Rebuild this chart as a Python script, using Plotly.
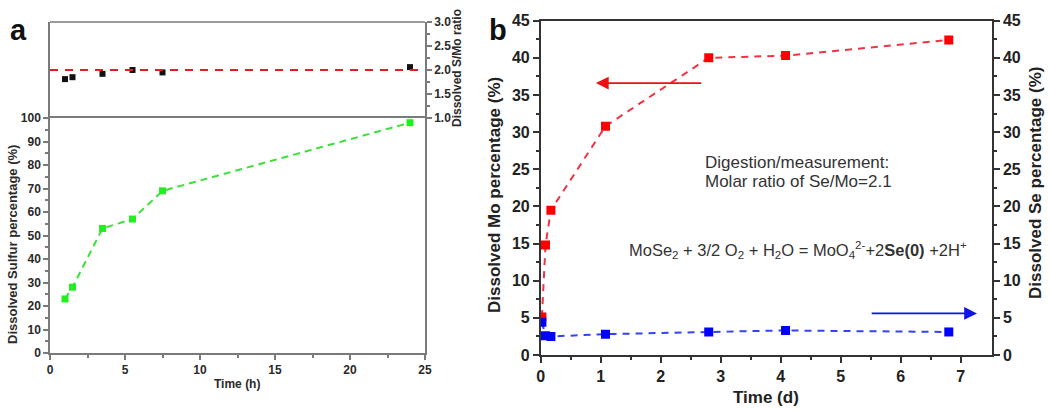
import plotly.graph_objects as go

W, H = 1050, 410

# ---------------- data ----------------
# Panel a
time_h = [1, 1.5, 3.5, 5.5, 7.5, 24]
sulfur_pct = [23, 28, 53, 57, 69, 98]
s_mo_ratio = [1.81, 1.85, 1.92, 2.0, 1.95, 2.06]
ideal_ratio = 2.0

# Panel b
time_d = [0.02, 0.08, 0.17, 1.08, 2.8, 4.08, 6.8]
mo_pct = [5.1, 14.8, 19.5, 30.8, 40.0, 40.3, 42.4]
se_time_d = [0.02, 0.08, 0.17, 1.08, 2.8, 4.08, 6.8]
se_pct = [4.4, 2.6, 2.5, 2.8, 3.1, 3.3, 3.1]

FONT = "Liberation Sans, Arial, sans-serif"


def px(x):
    return x / W


def py(y):
    return 1 - y / H


fig = go.Figure()

# Panel a traces
fig.add_trace(go.Scatter(
    x=time_h, y=sulfur_pct, mode="lines+markers", xaxis="x", yaxis="y",
    line=dict(color="#3be03b", width=2, dash="7px,5px"),
    marker=dict(symbol="square", size=7, color="#22ee22"),
    showlegend=False))
fig.add_trace(go.Scatter(
    x=time_h, y=s_mo_ratio, mode="markers", xaxis="x", yaxis="y2",
    marker=dict(symbol="square", size=6, color="#111111"),
    showlegend=False))

# Panel b traces
fig.add_trace(go.Scatter(
    x=time_d, y=mo_pct, mode="lines+markers", xaxis="x3", yaxis="y3",
    line=dict(color="#ee3344", width=2, dash="7px,6px"),
    marker=dict(symbol="square", size=9, color="#ff0000"),
    showlegend=False))
fig.add_trace(go.Scatter(
    x=se_time_d, y=se_pct, mode="lines+markers", xaxis="x3", yaxis="y4",
    line=dict(color="#3344ee", width=2, dash="7px,6px"),
    marker=dict(symbol="square", size=9, color="#0000ff"),
    showlegend=False))

tick_a = dict(family=FONT, size=12, color="#2a2a2a", weight="bold")
tick_b = dict(family=FONT, size=16, color="#222222", weight="bold")
gray = "#7a7a7a"
dark = "#333333"

fig.update_layout(
    template="none",
    width=W, height=H, autosize=False,
    margin=dict(l=0, r=0, t=0, b=0, pad=0),
    paper_bgcolor="white", plot_bgcolor="rgba(0,0,0,0)",
    font=dict(family=FONT),
    showlegend=False,
    xaxis=dict(domain=[px(50), px(425)], range=[0, 25], anchor="y",
               automargin=False,
               tickvals=[0, 5, 10, 15, 20, 25], ticks="outside", ticklen=5,
               tickcolor=gray, tickwidth=1.5,
               minor=dict(tickvals=[2.5, 7.5, 12.5, 17.5, 22.5], ticks="outside",
                          ticklen=3, tickcolor=gray),
               showline=True, linecolor=gray, linewidth=1.5, mirror=True,
               showgrid=False, zeroline=False, tickfont=tick_a),
    yaxis=dict(domain=[py(353), py(118)], range=[0, 100], anchor="x",
               automargin=False,
               tickvals=list(range(0, 101, 10)), ticks="outside", ticklen=5,
               tickcolor=gray, tickwidth=1.5,
               minor=dict(tickvals=list(range(5, 100, 10)), ticks="outside",
                          ticklen=3, tickcolor=gray),
               showline=True, linecolor=gray, linewidth=1.5, mirror=True,
               showgrid=False, zeroline=False, tickfont=tick_a),
    yaxis2=dict(domain=[py(118), py(22)], range=[1, 3], anchor="x", side="right",
                automargin=False,
                tickvals=[1.0, 1.5, 2.0, 2.5, 3.0], tickformat=".1f",
                ticks="outside", ticklen=5, tickcolor=gray, tickwidth=1.5,
                minor=dict(tickvals=[1.25, 1.75, 2.25, 2.75], ticks="outside",
                           ticklen=3, tickcolor=gray),
                showline=True, linecolor=gray, linewidth=1.5, mirror=True,
                showgrid=False, zeroline=False, tickfont=tick_a),
    xaxis3=dict(domain=[px(540.7), px(992)], range=[0, 7.52], anchor="y3",
                automargin=False,
                tickvals=list(range(0, 8)), ticks="outside", ticklen=6,
                tickcolor=dark, tickwidth=1.5,
                minor=dict(tickvals=[0.5, 1.5, 2.5, 3.5, 4.5, 5.5, 6.5],
                           ticks="outside", ticklen=3, tickcolor=dark),
                showline=True, linecolor=dark, linewidth=1.5, mirror=True,
                showgrid=False, zeroline=False, tickfont=tick_b),
    yaxis3=dict(domain=[py(355), py(20.7)], range=[0, 45], anchor="x3",
                automargin=False,
                tickvals=list(range(0, 46, 5)), ticks="outside", ticklen=6,
                tickcolor=dark, tickwidth=1.5,
                minor=dict(tickvals=[2.5 + 5 * i for i in range(9)],
                           ticks="outside", ticklen=3, tickcolor=dark),
                showline=True, linecolor=dark, linewidth=1.5,
                showgrid=False, zeroline=False, tickfont=tick_b),
    yaxis4=dict(range=[0, 45], overlaying="y3", anchor="x3", side="right",
                automargin=False,
                tickvals=list(range(0, 46, 5)), ticks="outside", ticklen=6,
                tickcolor=dark, tickwidth=1.5,
                minor=dict(tickvals=[2.5 + 5 * i for i in range(9)],
                           ticks="outside", ticklen=3, tickcolor=dark),
                showline=True, linecolor=dark, linewidth=1.5,
                showgrid=False, zeroline=False, tickfont=tick_b),
)

# ideal S/Mo ratio reference line
fig.add_shape(type="line", xref="x", yref="y2", x0=0, x1=25,
              y0=ideal_ratio, y1=ideal_ratio,
              line=dict(color="#e02020", width=2, dash="8px,7px"))
# top border of panel a
fig.add_shape(type="line", xref="paper", yref="paper",
              x0=px(50), x1=px(425), y0=py(22), y1=py(22),
              line=dict(color=gray, width=1.5))


def label(text, x, y, size, color, angle=0, xanchor="center", align="center"):
    return dict(text=text, x=px(x), y=py(y), xref="paper", yref="paper",
                xanchor=xanchor, yanchor="middle", align=align,
                textangle=angle, showarrow=False,
                font=dict(size=size, color=color, family=FONT))


ann = [
    label("<b>a</b>", 18, 30, 29, "#111111"),
    label("<b>b</b>", 498, 30, 29, "#111111"),
    label("<b>Dissolved Sulfur percentage (%)</b>", 12, 245, 13, "#2a2a2a", -90),
    label("<b>Dissolved S/Mo ratio</b>", 457, 68, 12, "#2a2a2a", -90),
    label("<b>Time (h)</b>", 237, 384, 12, "#2a2a2a"),
    label("<b>Dissolved Mo percentage (%)</b>", 494, 195, 17, "#222222", -90),
    label("<b>Dissolved Se percentage (%)</b>", 1036, 183, 17, "#222222", -90),
    label("<b>Time (d)</b>", 766, 397, 17, "#222222"),
    label("Digestion/measurement:", 703, 162, 17, "#333333", xanchor="left"),
    label("Molar ratio of Se/Mo=2.1", 703, 182, 17, "#333333", xanchor="left"),
    label("MoSe<sub>2</sub> + 3/2 O<sub>2</sub> + H<sub>2</sub>O = "
          "MoO<sub>4</sub><sup>2-</sup>+2<b>Se(0)</b> +2H<sup>+</sup>",
          627, 250, 16.5, "#333333", xanchor="left"),
]
# arrows
ann.append(dict(x=0.92, y=36.6, ax=2.7, ay=36.6, xref="x3", yref="y3",
                axref="x3", ayref="y3", text="", showarrow=True,
                arrowhead=2, arrowsize=1.6, arrowwidth=1.6, arrowcolor="#ee1111"))
ann.append(dict(x=7.27, y=5.6, ax=5.49, ay=5.6, xref="x3", yref="y3",
                axref="x3", ayref="y3", text="", showarrow=True,
                arrowhead=2, arrowsize=1.6, arrowwidth=1.6, arrowcolor="#1111ee"))
fig.update_layout(annotations=ann)

fig.write_html(
    "out.html",
    config={"responsive": False, "displayModeBar": False},
    post_script="document.body.style.margin='0px';"
                "document.body.style.overflow='hidden';",
)
